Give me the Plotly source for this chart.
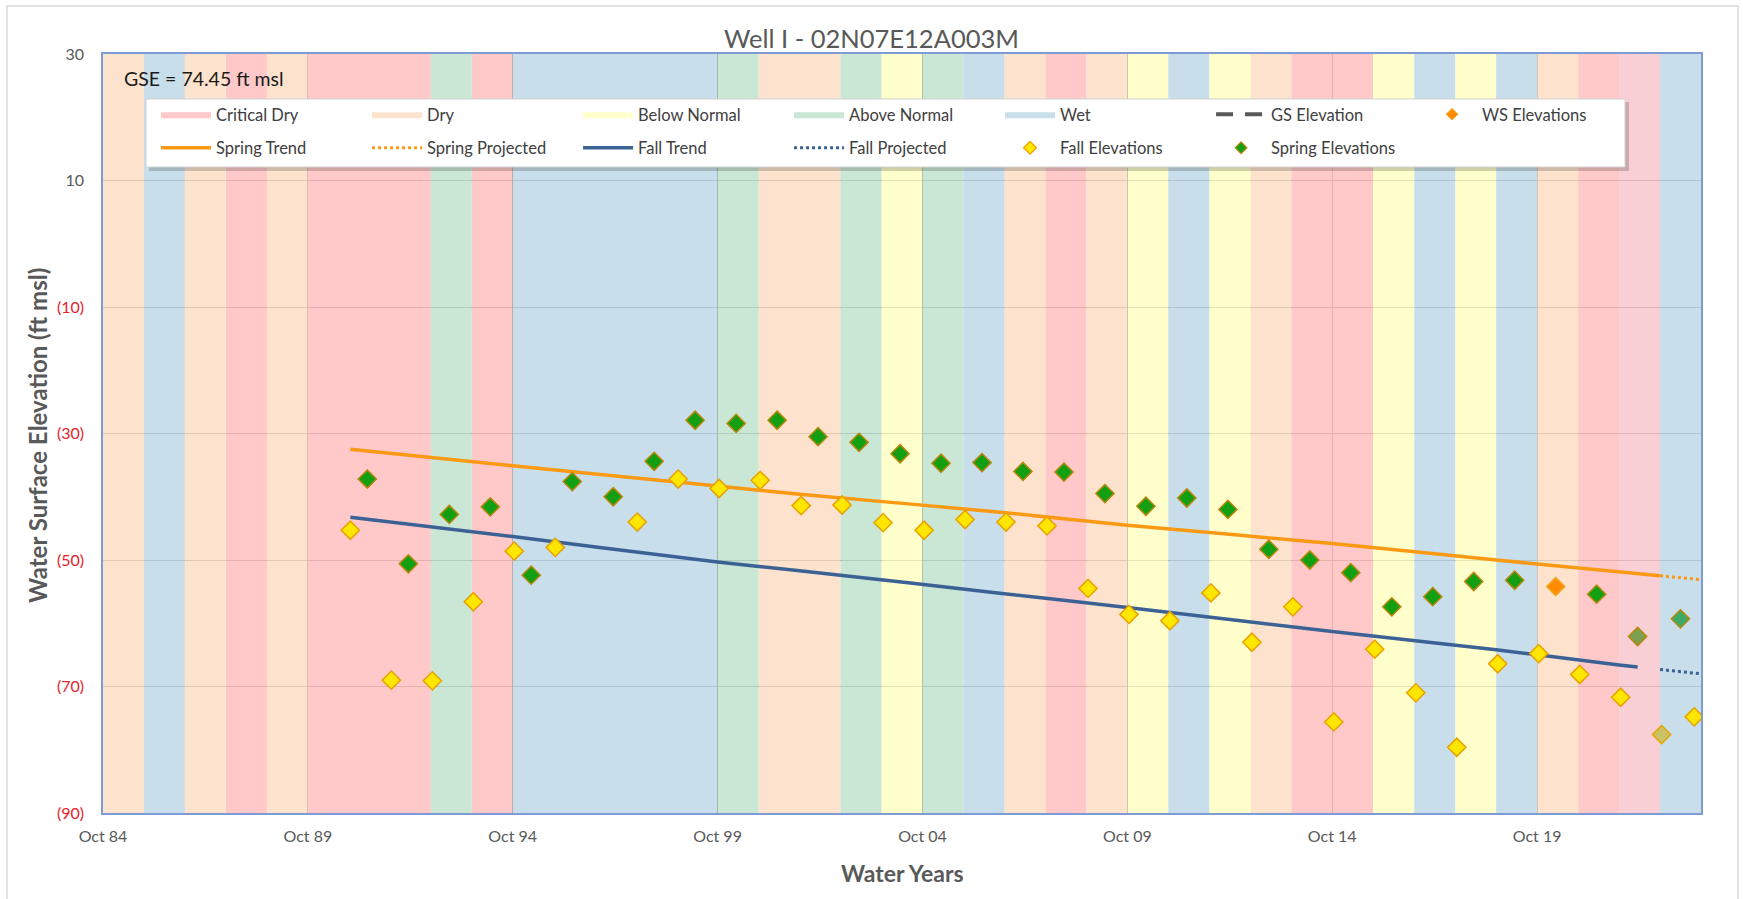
import plotly.graph_objects as go

# ---------------- data ----------------
water_years = list(range(1985, 2024))
year_types = ["D", "W", "D", "C", "D", "C", "C", "C", "AN", "C",
              "W", "W", "W", "W", "W", "AN", "D", "D", "AN", "BN",
              "AN", "W", "D", "C", "D", "BN", "W", "BN", "D", "C",
              "C", "BN", "W", "BN", "W", "D", "C", "C", "W"]

fall_dates = ["1990-10-15", "1991-10-15", "1992-10-15", "1993-10-15", "1994-10-15",
              "1995-10-15", "1997-10-15", "1998-10-15", "1999-10-15", "2000-10-15",
              "2001-10-15", "2002-10-15", "2003-10-15", "2004-10-15", "2005-10-15",
              "2006-10-15", "2007-10-15", "2008-10-15", "2009-10-15", "2010-10-15",
              "2011-10-15", "2012-10-15", "2013-10-15", "2014-10-15", "2015-10-15",
              "2016-10-15", "2017-10-15", "2018-10-15", "2019-10-15", "2020-10-15",
              "2021-10-15", "2022-10-15", "2023-08-01"]
fall_values = [-45.3, -69.0, -69.1, -56.6, -48.6,
               -48.0, -44.0, -37.2, -38.7, -37.4,
               -41.4, -41.3, -44.1, -45.3, -43.6,
               -44.0, -44.6, -54.5, -58.6, -59.6,
               -55.2, -63.0, -57.4, -75.6, -64.1,
               -71.0, -79.6, -66.4, -64.8, -68.1,
               -71.7, -77.6, -74.8]

spring_dates = ["1991-03-15", "1992-03-15", "1993-03-15", "1994-03-15", "1995-03-15",
                "1996-03-15", "1997-03-15", "1998-03-15", "1999-03-15", "2000-03-15",
                "2001-03-15", "2002-03-15", "2003-03-15", "2004-03-15", "2005-03-15",
                "2006-03-15", "2007-03-15", "2008-03-15", "2009-03-15", "2010-03-15",
                "2011-03-15", "2012-03-15", "2013-03-15", "2014-03-15", "2015-03-15",
                "2016-03-15", "2017-03-15", "2018-03-15", "2019-03-15",
                "2021-03-15", "2022-03-15", "2023-04-01"]
spring_values = [-37.2, -50.6, -42.8, -41.6, -52.4,
                 -37.6, -40.0, -34.4, -27.9, -28.4,
                 -27.9, -30.5, -31.4, -33.2, -34.7,
                 -34.6, -36.0, -36.1, -39.5, -41.5,
                 -40.2, -42.0, -48.3, -50.0, -52.0,
                 -57.4, -55.8, -53.4, -53.2,
                 -55.4, -62.1, -59.3]

ws_dates = ["2020-03-15"]
ws_values = [-54.2]

spring_trend_dates = ["1990-10-15", "1994-10-01", "1999-10-01", "2001-10-01", "2006-08-01",
                      "2009-10-01", "2014-10-01", "2018-10-01", "2022-10-01"]
spring_trend_values = [-32.5, -35.1, -38.3, -39.6, -42.4, -44.5, -47.4, -50.0, -52.5]
spring_proj_dates = ["2022-10-01", "2023-10-01"]
spring_proj_values = [-52.5, -53.1]

fall_trend_dates = ["1990-10-15", "1994-10-01", "1999-10-01", "2001-10-01", "2006-08-01",
                    "2009-10-01", "2014-10-01", "2018-10-01", "2021-10-01", "2022-03-15"]
fall_trend_values = [-43.25, -46.3, -50.3, -51.7, -55.2, -57.5, -61.3, -64.2, -66.6, -66.9]
fall_proj_dates = ["2022-10-01", "2023-10-01"]
fall_proj_values = [-67.3, -68.0]

gse_value = 74.45

x_tick_vals = ["1984-10-01", "1989-10-01", "1994-10-01", "1999-10-01",
               "2004-10-01", "2009-10-01", "2014-10-01", "2019-10-01"]
x_tick_text = ["Oct 84", "Oct 89", "Oct 94", "Oct 99", "Oct 04", "Oct 09", "Oct 14", "Oct 19"]
y_tick_vals = [30, 10, -10, -30, -50, -70, -90]
y_tick_text = ["30", "10", "(10)", "(30)", "(50)", "(70)", "(90)"]

# ---------------- styles ----------------
Y_MIN, Y_MAX = -90, 30
X_MIN, X_MAX = "1984-10-01", "2023-10-01"
FONT = "Lato, 'Open Sans', sans-serif"
GRAY = "#595959"

type_info = [
    ("C", "Critical Dry", "rgba(255,189,189,0.82)"),
    ("D", "Dry", "rgba(253,221,194,0.82)"),
    ("BN", "Below Normal", "rgba(255,255,193,0.82)"),
    ("AN", "Above Normal", "rgba(189,226,203,0.82)"),
    ("W", "Wet", "rgba(188,215,229,0.82)"),
]
override_color = {2022: "rgba(246,197,203,0.82)"}

fig = go.Figure()

# water-year bands
for code, name, color in type_info:
    xs, ys = [], []
    for wy, t in zip(water_years, year_types):
        if t != code or wy in override_color:
            continue
        x0, x1 = f"{wy - 1}-10-01", f"{wy}-10-01"
        xs += [x0, x0, x1, x1, x0, None]
        ys += [Y_MIN, Y_MAX, Y_MAX, Y_MIN, Y_MIN, None]
    fig.add_trace(go.Scatter(x=xs, y=ys, mode="lines", fill="toself", fillcolor=color,
                             line=dict(width=0), name=name, legend="legend",
                             hoverinfo="skip", legendrank=len(fig.data) + 1))
for wy, color in override_color.items():
    x0, x1 = f"{wy - 1}-10-01", f"{wy}-10-01"
    fig.add_trace(go.Scatter(x=[x0, x0, x1, x1, x0], y=[Y_MIN, Y_MAX, Y_MAX, Y_MIN, Y_MIN],
                             mode="lines", fill="toself", fillcolor=color, line=dict(width=0),
                             showlegend=False, hoverinfo="skip"))

# GS elevation (off-scale)
fig.add_trace(go.Scatter(x=[X_MIN, X_MAX], y=[gse_value, gse_value], mode="lines",
                         line=dict(color=GRAY, width=4, dash="17px,12px"),
                         name="GS Elevation", legend="legend", legendrank=10))

# trends
fig.add_trace(go.Scatter(x=spring_trend_dates, y=spring_trend_values, mode="lines",
                         line=dict(color="#FA9A14", width=3.5, shape="spline"),
                         name="Spring Trend", legend="legend2", legendrank=1))
fig.add_trace(go.Scatter(x=spring_proj_dates, y=spring_proj_values, mode="lines",
                         line=dict(color="#FA9A14", width=3, dash="dot"),
                         name="Spring Projected", legend="legend2", legendrank=2))
fig.add_trace(go.Scatter(x=fall_trend_dates, y=fall_trend_values, mode="lines",
                         line=dict(color="#3B6195", width=3.5, shape="spline"),
                         name="Fall Trend", legend="legend2", legendrank=3))
fig.add_trace(go.Scatter(x=fall_proj_dates, y=fall_proj_values, mode="lines",
                         line=dict(color="#3B6195", width=3, dash="dot"),
                         name="Fall Projected", legend="legend2", legendrank=4))

# points
fall_fill = ["#FFE600"] * len(fall_values)
fall_fill[-2] = "#C8C466"
fig.add_trace(go.Scatter(x=fall_dates, y=fall_values, mode="markers", showlegend=False,
                         marker=dict(symbol="diamond", size=14, color=fall_fill,
                                     line=dict(color="#E8A200", width=1.5))))
spring_fill = ["#12A012"] * len(spring_values)
spring_fill[-2] = "#7AA050"
spring_fill[-1] = "#3DAA66"
fig.add_trace(go.Scatter(x=spring_dates, y=spring_values, mode="markers", showlegend=False,
                         marker=dict(symbol="diamond", size=14, color=spring_fill,
                                     line=dict(color="#B8860B", width=1.5))))
fig.add_trace(go.Scatter(x=ws_dates, y=ws_values, mode="markers", showlegend=False,
                         marker=dict(symbol="diamond", size=14, color="#FF8C00",
                                     line=dict(color="#F5A623", width=1.5))))

# legend-only marker entries (small symbols like the reference)
fig.add_trace(go.Scatter(x=[None], y=[None], mode="markers", name="WS Elevations",
                         legend="legend", legendrank=11,
                         marker=dict(symbol="diamond", size=9, color="#FF8C00",
                                     line=dict(color="#F5A623", width=1))))
fig.add_trace(go.Scatter(x=[None], y=[None], mode="markers", name="Fall Elevations",
                         legend="legend2", legendrank=5,
                         marker=dict(symbol="diamond", size=10, color="#FFE600",
                                     line=dict(color="#E8A200", width=1.2))))
fig.add_trace(go.Scatter(x=[None], y=[None], mode="markers", name="Spring Elevations",
                         legend="legend2", legendrank=6,
                         marker=dict(symbol="diamond", size=9, color="#12A012",
                                     line=dict(color="#B8860B", width=1.2))))

y_tick_html = [t if v >= 0 else f'<span style="color:#E8212B">{t}</span>'
               for v, t in zip(y_tick_vals, y_tick_text)]

legend_common = dict(orientation="h", xanchor="left", yanchor="middle",
                     bgcolor="rgba(0,0,0,0)", borderwidth=0,
                     entrywidth=146, entrywidthmode="pixels", itemwidth=50,
                     font=dict(family=FONT, size=16.5, color="#404040"),
                     traceorder="normal", itemclick=False, itemdoubleclick=False)

fig.update_layout(
    width=1743, height=899,
    margin=dict(l=103, r=42, t=54, b=86),
    paper_bgcolor="white", plot_bgcolor="white",
    font=dict(family=FONT, color=GRAY),
    title=dict(text="Well I - 02N07E12A003M", x=0.5, xref="container", xanchor="center",
               y=1 - 39 / 899, yref="container", yanchor="middle",
               font=dict(family=FONT, size=25.5, color=GRAY)),
    xaxis=dict(type="date", range=[X_MIN, X_MAX], tickvals=x_tick_vals, ticktext=x_tick_text,
               showgrid=True, gridcolor="#6e6e6e", gridwidth=1, zeroline=False,
               showline=True, linecolor="#7E9BD6", linewidth=1.5, mirror=True,
               ticks="", ticklabelstandoff=8,
               tickfont=dict(family=FONT, size=16, color=GRAY)),
    yaxis=dict(range=[Y_MIN, Y_MAX], tickvals=y_tick_vals, ticktext=y_tick_html,
               showgrid=True, gridcolor="#6e6e6e", gridwidth=1, zeroline=False,
               showline=True, linecolor="#7E9BD6", linewidth=1.5, mirror=True,
               ticks="", ticklabelstandoff=14,
               tickfont=dict(family=FONT, size=16, color=GRAY)),
    legend=dict(x=0.0332, y=1 - (114.5 - 54) / 759, **legend_common),
    legend2=dict(x=0.0332, y=1 - (148 - 54) / 759, **legend_common),
    showlegend=True,
    annotations=[
        dict(text="GSE = 74.45 ft msl", xref="paper", yref="paper", x=0.0119,
             y=1 - (78 - 54) / 759, xanchor="left", yanchor="middle", showarrow=False,
             font=dict(family=FONT, size=19.5, color="#1a1a1a")),
        dict(text="<b>Water Years</b>", xref="paper", yref="paper", x=0.5,
             y=1 - (873 - 54) / 759, xanchor="center", yanchor="middle", showarrow=False,
             font=dict(family=FONT, size=23, color=GRAY)),
        dict(text="<b>Water Surface Elevation (ft msl)</b>", xref="paper", yref="paper",
             x=(37 - 103) / 1598, y=1 - (436 - 54) / 759, xanchor="center", yanchor="middle",
             textangle=-90, showarrow=False, font=dict(family=FONT, size=24, color=GRAY)),
    ],
    shapes=[
        # outer chart border
        dict(type="rect", xref="paper", yref="paper", x0=(7 - 103) / 1598, x1=(1738 - 103) / 1598,
             y0=1 - (905 - 54) / 759, y1=1 + (54 - 6) / 759,
             line=dict(color="#d9d9d9", width=1.5), fillcolor="rgba(0,0,0,0)", layer="below"),
        # legend box shadow and box
        dict(type="rect", xref="paper", yref="paper", x0=(149 - 103) / 1598, x1=(1629 - 103) / 1598,
             y0=1 - (171 - 54) / 759, y1=1 - (102 - 54) / 759,
             line=dict(width=0), fillcolor="rgba(0,0,0,0.18)", layer="above"),
        dict(type="rect", xref="paper", yref="paper", x0=(146 - 103) / 1598, x1=(1625 - 103) / 1598,
             y0=1 - (167 - 54) / 759, y1=1 - (99 - 54) / 759,
             line=dict(color="#d0d0d0", width=1), fillcolor="white", layer="above"),
    ],
)

fig.write_html("out.html", config={"displayModeBar": False},
               post_script="document.body.style.margin='0px';")
